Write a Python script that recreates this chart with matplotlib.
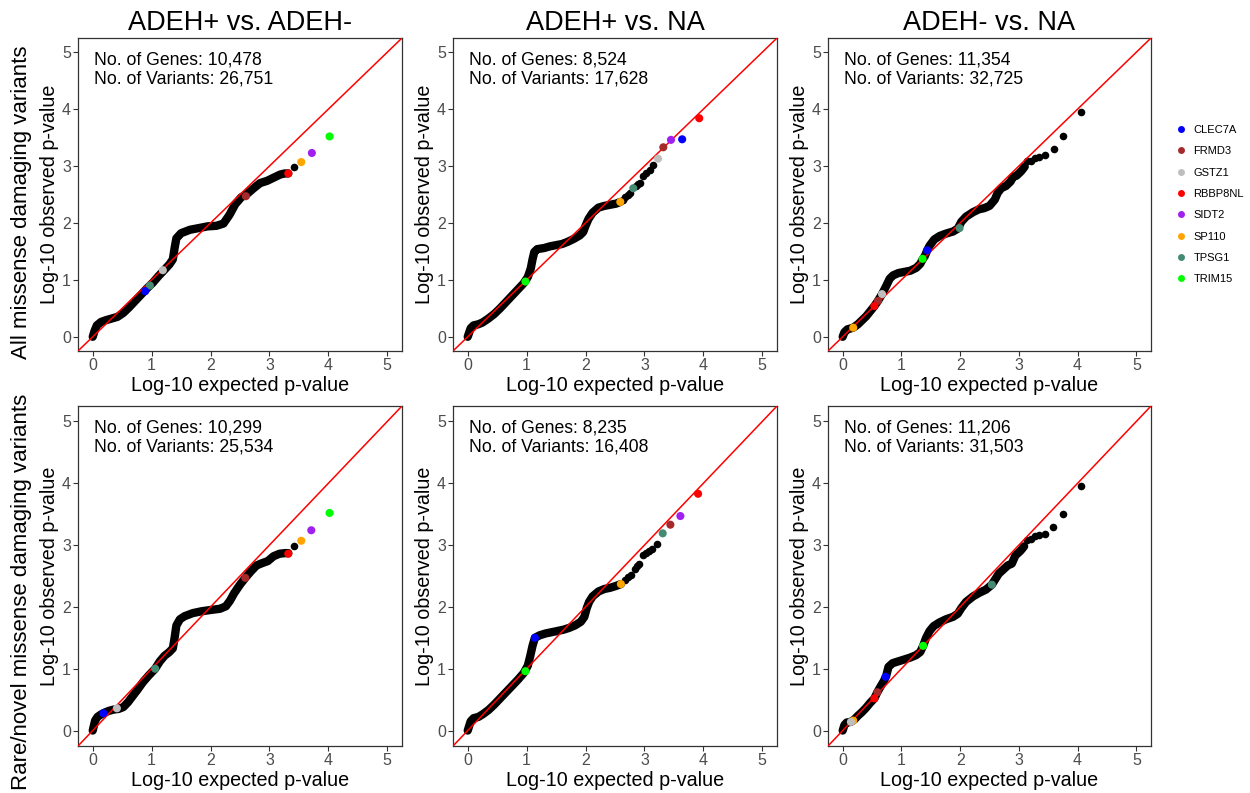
import matplotlib
matplotlib.use("Agg")
import matplotlib.pyplot as plt
from matplotlib.lines import Line2D

plt.rcParams['font.family'] = ['Liberation Sans', 'DejaVu Sans']

# ---------------- data ----------------
COL_TITLES = ['ADEH+ vs. ADEH-', 'ADEH+ vs. NA', 'ADEH- vs. NA']
ROW_TITLES = ['All missense damaging variants', 'Rare/novel missense damaging variants']
N_GENES = [[10478, 8524, 11354], [10299, 8235, 11206]]
N_VARIANTS = [[26751, 17628, 32725], [25534, 16408, 31503]]

GENES = ['CLEC7A', 'FRMD3', 'GSTZ1', 'RBBP8NL', 'SIDT2', 'SP110', 'TPSG1', 'TRIM15']
GENE_COLORS = ['#0000FF', '#A52A2A', '#BEBEBE', '#FF0000', '#A020F0', '#FFA500', '#458B74', '#00FF00']

TICKS = [0, 1, 2, 3, 4, 5]

# Panel 1: All, ADEH+ vs ADEH-  (dense band of points: expected, observed)
P1_BAND_X = [0.00, 0.03, 0.07, 0.14, 0.22, 0.32, 0.42, 0.52, 0.62, 0.72, 0.82, 0.92, 1.02, 1.12, 1.22, 1.30,
             1.36, 1.39, 1.42, 1.50, 1.65, 1.80, 1.95, 2.10, 2.22, 2.32, 2.42, 2.52, 2.62, 2.72, 2.84, 2.96,
             3.08, 3.18, 3.26, 3.32]
P1_BAND_Y = [0.00, 0.10, 0.20, 0.26, 0.29, 0.32, 0.35, 0.42, 0.52, 0.63, 0.74, 0.85, 0.95, 1.07, 1.18, 1.27,
             1.36, 1.56, 1.73, 1.82, 1.88, 1.91, 1.94, 1.95, 1.99, 2.14, 2.33, 2.45, 2.51, 2.60, 2.70, 2.74,
             2.80, 2.85, 2.87, 2.87]
P1_TAIL_X = [3.41]
P1_TAIL_Y = [2.99]
P1_HI_GENE = ['TRIM15', 'SIDT2', 'SP110', 'RBBP8NL', 'FRMD3', 'GSTZ1', 'TPSG1', 'CLEC7A']
P1_HI_X = [4.02, 3.72, 3.54, 3.32, 2.60, 1.19, 0.97, 0.89]
P1_HI_Y = [3.52, 3.23, 3.07, 2.87, 2.47, 1.17, 0.90, 0.80]

# Panel 2: All, ADEH+ vs NA
P2_BAND_X = [0.00, 0.02, 0.05, 0.10, 0.18, 0.25, 0.35, 0.45, 0.55, 0.65, 0.75, 0.85, 0.95, 1.02, 1.07, 1.10,
             1.13, 1.18, 1.30, 1.40, 1.50, 1.60, 1.70, 1.80, 1.90, 1.96, 2.00, 2.05, 2.12, 2.22, 2.32, 2.42,
             2.52, 2.59]
P2_BAND_Y = [0.00, 0.06, 0.15, 0.20, 0.22, 0.25, 0.32, 0.40, 0.50, 0.61, 0.72, 0.83, 0.94, 1.05, 1.20, 1.36,
             1.49, 1.54, 1.56, 1.59, 1.61, 1.63, 1.67, 1.72, 1.78, 1.84, 1.95, 2.07, 2.18, 2.27, 2.30, 2.32,
             2.34, 2.37]
P2_TAIL_X = [2.63, 2.67, 2.72, 2.76, 2.85, 2.89, 2.93, 2.98, 3.03, 3.09, 3.15]
P2_TAIL_Y = [2.41, 2.46, 2.49, 2.52, 2.65, 2.68, 2.71, 2.83, 2.87, 2.93, 3.01]
P2_HI_GENE = ['RBBP8NL', 'CLEC7A', 'SIDT2', 'FRMD3', 'GSTZ1', 'TPSG1', 'SP110', 'TRIM15']
P2_HI_X = [3.93, 3.64, 3.45, 3.32, 3.23, 2.81, 2.59, 0.98]
P2_HI_Y = [3.84, 3.47, 3.46, 3.33, 3.13, 2.61, 2.37, 0.97]

# Panel 3: All, ADEH- vs NA
P3_BAND_X = [0.00, 0.03, 0.08, 0.18, 0.26, 0.33, 0.40, 0.47, 0.54, 0.60, 0.67, 0.74, 0.80, 0.86, 0.95, 1.05,
             1.15, 1.25, 1.32, 1.36, 1.40, 1.44, 1.48, 1.56, 1.65, 1.75, 1.88, 1.96, 2.02, 2.10, 2.22, 2.32,
             2.41, 2.50, 2.59, 2.64, 2.70, 2.78, 2.86, 2.90, 2.96, 3.04, 3.10]
P3_BAND_Y = [0.00, 0.08, 0.13, 0.16, 0.22, 0.29, 0.36, 0.45, 0.54, 0.63, 0.75, 0.89, 1.02, 1.08, 1.12, 1.14,
             1.16, 1.21, 1.28, 1.36, 1.42, 1.52, 1.60, 1.71, 1.77, 1.81, 1.85, 1.90, 2.02, 2.11, 2.19, 2.24,
             2.26, 2.30, 2.41, 2.53, 2.61, 2.65, 2.73, 2.81, 2.83, 2.91, 2.99]
P3_TAIL_X = [3.14, 3.20, 3.28, 3.35, 3.45, 3.59, 3.76, 4.06]
P3_TAIL_Y = [3.08, 3.09, 3.14, 3.16, 3.19, 3.30, 3.52, 3.95]
P3_HI_GENE = ['TPSG1', 'CLEC7A', 'TRIM15', 'GSTZ1', 'FRMD3', 'RBBP8NL', 'SP110']
P3_HI_X = [1.99, 1.44, 1.36, 0.67, 0.60, 0.54, 0.18]
P3_HI_Y = [1.91, 1.52, 1.37, 0.75, 0.63, 0.54, 0.16]

# Panel 4: Rare/novel, ADEH+ vs ADEH-
P4_BAND_X = [0.00, 0.02, 0.04, 0.08, 0.14, 0.20, 0.28, 0.36, 0.44, 0.52, 0.60, 0.68, 0.76, 0.85, 0.95, 1.06,
             1.14, 1.22, 1.30, 1.36, 1.39, 1.42, 1.48, 1.56, 1.70, 1.85, 2.00, 2.16, 2.26, 2.33, 2.40, 2.50,
             2.59, 2.68, 2.78, 2.88, 2.97, 3.07, 3.17, 3.26, 3.32]
P4_BAND_Y = [0.00, 0.08, 0.16, 0.22, 0.26, 0.29, 0.32, 0.34, 0.35, 0.38, 0.46, 0.56, 0.66, 0.78, 0.89, 1.00,
             1.12, 1.21, 1.27, 1.33, 1.50, 1.70, 1.80, 1.85, 1.90, 1.93, 1.95, 1.97, 2.01, 2.10, 2.22, 2.36,
             2.47, 2.57, 2.67, 2.71, 2.74, 2.82, 2.86, 2.87, 2.87]
P4_TAIL_X = [3.41]
P4_TAIL_Y = [2.99]
P4_HI_GENE = ['TRIM15', 'SIDT2', 'SP110', 'RBBP8NL', 'FRMD3', 'TPSG1', 'GSTZ1', 'CLEC7A']
P4_HI_X = [4.02, 3.71, 3.54, 3.32, 2.59, 1.06, 0.41, 0.18]
P4_HI_Y = [3.52, 3.24, 3.07, 2.86, 2.47, 1.00, 0.36, 0.28]

# Panel 5: Rare/novel, ADEH+ vs NA
P5_BAND_X = [0.00, 0.02, 0.05, 0.10, 0.18, 0.25, 0.35, 0.45, 0.55, 0.65, 0.75, 0.85, 0.95, 1.02, 1.06, 1.10,
             1.14, 1.22, 1.32, 1.42, 1.52, 1.62, 1.72, 1.82, 1.92, 1.98, 2.02, 2.06, 2.12, 2.22, 2.32, 2.42,
             2.52, 2.60]
P5_BAND_Y = [0.00, 0.06, 0.15, 0.20, 0.22, 0.26, 0.33, 0.42, 0.52, 0.62, 0.72, 0.82, 0.93, 1.05, 1.20, 1.37,
             1.50, 1.54, 1.57, 1.59, 1.61, 1.63, 1.66, 1.70, 1.76, 1.84, 1.98, 2.08, 2.17, 2.25, 2.29, 2.31,
             2.34, 2.37]
P5_TAIL_X = [2.67, 2.72, 2.78, 2.84, 2.88, 2.91, 2.97, 3.02, 3.07, 3.13, 3.22]
P5_TAIL_Y = [2.44, 2.48, 2.52, 2.62, 2.66, 2.70, 2.84, 2.87, 2.90, 2.93, 3.01]
P5_HI_GENE = ['RBBP8NL', 'SIDT2', 'FRMD3', 'TPSG1', 'SP110', 'CLEC7A', 'TRIM15']
P5_HI_X = [3.91, 3.61, 3.44, 3.31, 2.60, 1.14, 0.98]
P5_HI_Y = [3.83, 3.47, 3.33, 3.19, 2.37, 1.50, 0.96]

# Panel 6: Rare/novel, ADEH- vs NA
P6_BAND_X = [0.00, 0.03, 0.07, 0.14, 0.20, 0.26, 0.33, 0.40, 0.47, 0.54, 0.59, 0.65, 0.70, 0.74, 0.78, 0.85,
             0.95, 1.05, 1.15, 1.25, 1.32, 1.37, 1.42, 1.48, 1.55, 1.65, 1.76, 1.88, 1.96, 2.02, 2.10, 2.22,
             2.33, 2.44, 2.54, 2.60, 2.66, 2.73, 2.81, 2.88, 2.94, 3.03, 3.09]
P6_BAND_Y = [0.00, 0.09, 0.13, 0.14, 0.18, 0.24, 0.30, 0.37, 0.45, 0.52, 0.62, 0.72, 0.80, 0.88, 1.03, 1.09,
             1.12, 1.15, 1.18, 1.22, 1.27, 1.37, 1.50, 1.61, 1.69, 1.75, 1.80, 1.84, 1.89, 1.98, 2.08, 2.17,
             2.23, 2.28, 2.36, 2.45, 2.54, 2.60, 2.67, 2.70, 2.83, 2.91, 2.98]
P6_TAIL_X = [3.14, 3.20, 3.27, 3.35, 3.45, 3.58, 3.76, 4.06]
P6_TAIL_Y = [3.08, 3.10, 3.14, 3.16, 3.18, 3.30, 3.51, 3.95]
P6_HI_GENE = ['TPSG1', 'TRIM15', 'CLEC7A', 'FRMD3', 'RBBP8NL', 'SP110', 'GSTZ1']
P6_HI_X = [2.54, 1.37, 0.73, 0.59, 0.54, 0.18, 0.14]
P6_HI_Y = [2.36, 1.37, 0.87, 0.62, 0.52, 0.16, 0.14]

PANELS = [
    [(P1_BAND_X, P1_BAND_Y, P1_TAIL_X, P1_TAIL_Y, P1_HI_GENE, P1_HI_X, P1_HI_Y),
     (P2_BAND_X, P2_BAND_Y, P2_TAIL_X, P2_TAIL_Y, P2_HI_GENE, P2_HI_X, P2_HI_Y),
     (P3_BAND_X, P3_BAND_Y, P3_TAIL_X, P3_TAIL_Y, P3_HI_GENE, P3_HI_X, P3_HI_Y)],
    [(P4_BAND_X, P4_BAND_Y, P4_TAIL_X, P4_TAIL_Y, P4_HI_GENE, P4_HI_X, P4_HI_Y),
     (P5_BAND_X, P5_BAND_Y, P5_TAIL_X, P5_TAIL_Y, P5_HI_GENE, P5_HI_X, P5_HI_Y),
     (P6_BAND_X, P6_BAND_Y, P6_TAIL_X, P6_TAIL_Y, P6_HI_GENE, P6_HI_X, P6_HI_Y)],
]

# ---------------- layout ----------------
W, H = 1250, 793
fig = plt.figure(figsize=(W / 100, H / 100), dpi=100)
color_of = dict(zip(GENES, GENE_COLORS))

col_px = [(78, 402), (453, 777), (828, 1151)]
row_px = [(38, 351), (406, 746)]

axis_col = '#333333'
tick_col = '#4D4D4D'

for r in range(2):
    for c in range(3):
        x0, x1 = col_px[c]
        y0, y1 = row_px[r]
        ax = fig.add_axes([x0 / W, 1 - y1 / H, (x1 - x0) / W, (y1 - y0) / H])
        bx, by, tx, ty, hg, hx, hy = PANELS[r][c]
        ax.plot(bx, by, color='black', lw=6.0, solid_capstyle='round',
                solid_joinstyle='round', zorder=2)
        ax.scatter(tx, ty, s=30, color='black', linewidths=0, zorder=3)
        ax.axline((0, 0), slope=1, color='red', lw=1.1, zorder=4)
        ax.scatter(hx, hy, s=34, c=[color_of[g] for g in hg], linewidths=0, zorder=5)
        ax.set_xlim(-0.25, 5.25)
        ax.set_ylim(-0.25, 5.25)
        ax.set_xticks(TICKS)
        ax.set_yticks(TICKS)
        ax.tick_params(direction='out', length=3.5, width=0.8, color=axis_col,
                       labelcolor=tick_col, labelsize=11.5, pad=1.5)
        for s in ax.spines.values():
            s.set_color(axis_col)
            s.set_linewidth(0.9)
        ax.set_xlabel('Log-10 expected p-value', fontsize=14.2, labelpad=2)
        ax.set_ylabel('Log-10 observed p-value', fontsize=14.2, labelpad=2.5)
        if r == 0:
            ax.set_title(COL_TITLES[c], fontsize=19.5, pad=6)
        ax.annotate(f'No. of Genes: {N_GENES[r][c]:,}\nNo. of Variants: {N_VARIANTS[r][c]:,}',
                    xy=(0.03, 5.25), xycoords='data', xytext=(0, -10), textcoords='offset points',
                    ha='left', va='top', fontsize=12.7, linespacing=1.12, color='black')

# row labels
fig.text(22 / W, 1 - 202 / H, ROW_TITLES[0], rotation=90, ha='center', va='center', fontsize=16)
fig.text(22 / W, 1 - 592 / H, ROW_TITLES[1], rotation=90, ha='center', va='center', fontsize=16)

# legend
handles = [Line2D([], [], marker='o', ls='', color=col, markersize=5, markeredgewidth=0)
           for col in GENE_COLORS]
fig.legend(handles, GENES, loc='upper left', bbox_to_anchor=(1175.5 / W, 1 - 125 / H),
           frameon=False, fontsize=8, handlelength=1.0, handletextpad=0.6,
           labelspacing=1.02, borderpad=0, borderaxespad=0)

fig.savefig('out.png', dpi=100)
